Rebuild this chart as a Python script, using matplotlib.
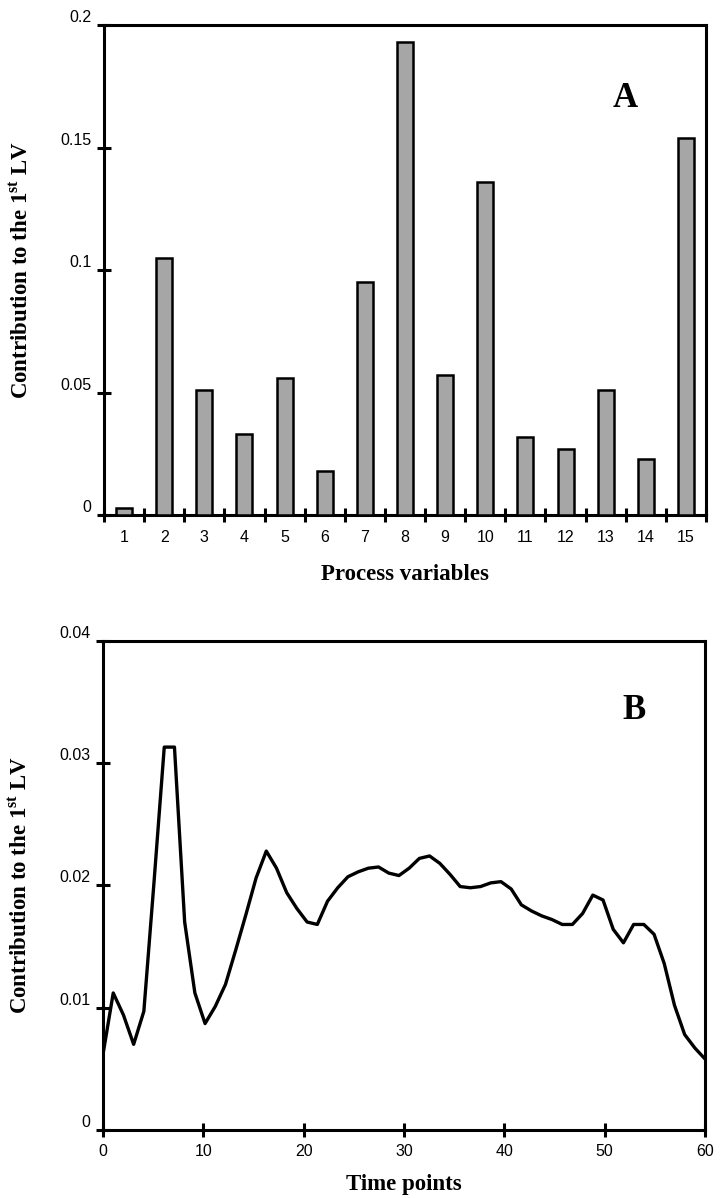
import numpy as np
import matplotlib
matplotlib.use("Agg")
import matplotlib.pyplot as plt

# ---- data ----
variables = list(range(1, 16))
contrib_vars = [0.003, 0.105, 0.051, 0.033, 0.056, 0.018, 0.095, 0.193,
                0.057, 0.136, 0.032, 0.027, 0.051, 0.023, 0.154]

contrib_time = [0.0062, 0.0112, 0.0094, 0.0070, 0.0097, 0.0203, 0.0313, 0.0313,
                0.0170, 0.0112, 0.0087, 0.0101, 0.0119, 0.0147, 0.0176, 0.0206,
                0.0228, 0.0214, 0.0194, 0.0181, 0.0170, 0.0168, 0.0187, 0.0198,
                0.0207, 0.0211, 0.0214, 0.0215, 0.0210, 0.0208, 0.0214, 0.0222,
                0.0224, 0.0218, 0.0209, 0.0199, 0.0198, 0.0199, 0.0202, 0.0203,
                0.0197, 0.0184, 0.0179, 0.0175, 0.0172, 0.0168, 0.0168, 0.0177,
                0.0192, 0.0188, 0.0164, 0.0153, 0.0168, 0.0168, 0.0160, 0.0136,
                0.0102, 0.0078, 0.0067, 0.0058]
time_points = np.linspace(0, 60, len(contrib_time))

y_ticks_a = [0, 0.05, 0.1, 0.15, 0.2]
y_ticklabels_a = ["0", "0.05", "0.1", "0.15", "0.2"]
y_ticks_b = [0, 0.01, 0.02, 0.03, 0.04]
y_ticklabels_b = ["0", "0.01", "0.02", "0.03", "0.04"]
x_ticks_b = [0, 10, 20, 30, 40, 50, 60]

plt.rcParams["mathtext.fontset"] = "custom"
plt.rcParams["mathtext.rm"] = "Liberation Serif:bold"
plt.rcParams["font.family"] = "Liberation Sans"

label_font = dict(family="Liberation Serif", weight="bold", size=16.5)
ylabel_txt = r"Contribution to the 1$^{\mathrm{st}}$ LV"
tick_fs = 11.5

fig = plt.figure(figsize=(7.21, 11.98), dpi=100)
ax1 = fig.add_axes([0.1442, 0.5701, 0.835, 0.409])
ax2 = fig.add_axes([0.1429, 0.0568, 0.835, 0.4084])

for ax in (ax1, ax2):
    for sp in ax.spines.values():
        sp.set_linewidth(2.2)
        sp.set_color("black")

# --- A: bars ---
ax1.bar(variables, contrib_vars, width=0.4, color="#a6a6a6",
        edgecolor="black", linewidth=1.8, zorder=3)
ax1.set_xlim(0.5, 15.5)
ax1.set_ylim(0, 0.2)
ax1.set_xticks(variables)
ax1.set_xticklabels([str(v) for v in variables], fontsize=tick_fs)
ax1.tick_params(axis="x", which="major", length=0, pad=11)
ax1.set_xticks(np.arange(0.5, 16, 1.0), minor=True)
ax1.tick_params(axis="x", which="minor", direction="inout", length=10, width=2.2)
ax1.set_yticks(y_ticks_a)
ax1.set_yticklabels(y_ticklabels_a, fontsize=tick_fs)
ax1.tick_params(axis="y", direction="inout", length=10, width=2.2, pad=4)
ax1.set_xlabel("Process variables", **label_font)
ax1.xaxis.set_label_coords(0.5, -0.1)
ax1.set_ylabel(ylabel_txt, **label_font)
ax1.yaxis.set_label_coords(-0.118, 0.5)
ax1.text(0.866, 0.851, "A", transform=ax1.transAxes, ha="center", va="center",
         family="Liberation Serif", weight="bold", size=25)

# --- B: line ---
ax2.plot(time_points, contrib_time, color="black", linewidth=2.4, zorder=3)
ax2.set_xlim(0, 60)
ax2.set_ylim(0, 0.04)
ax2.set_xticks(x_ticks_b)
ax2.set_xticklabels([str(v) for v in x_ticks_b], fontsize=tick_fs)
ax2.tick_params(axis="x", direction="inout", length=10, width=2.2, pad=5)
ax2.set_yticks(y_ticks_b)
ax2.set_yticklabels(y_ticklabels_b, fontsize=tick_fs)
ax2.tick_params(axis="y", direction="inout", length=10, width=2.2, pad=4)
ax2.set_xlabel("Time points", **label_font)
ax2.xaxis.set_label_coords(0.5, -0.09)
ax2.set_ylabel(ylabel_txt, **label_font)
ax2.yaxis.set_label_coords(-0.118, 0.5)
ax2.text(0.882, 0.858, "B", transform=ax2.transAxes, ha="center", va="center",
         family="Liberation Serif", weight="bold", size=25)

# y tick labels sit slightly above their ticks
for ax in (ax1, ax2):
    for lab in ax.get_yticklabels():
        lab.set_va("bottom")

fig.savefig("out.png", dpi=100)
